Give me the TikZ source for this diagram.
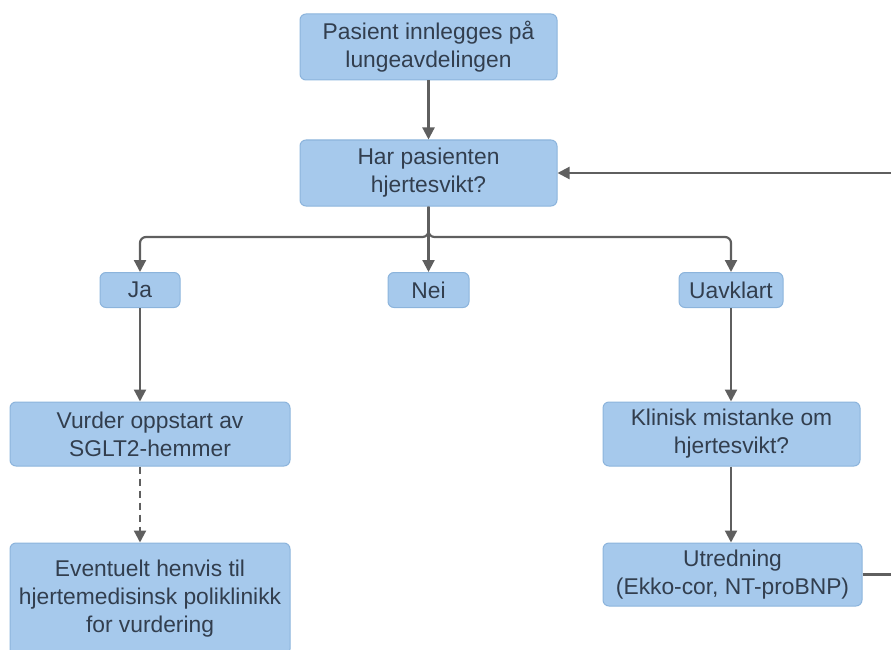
\documentclass[tikz,border=0pt]{standalone}
\usepackage{fontspec}
\setmainfont{Liberation Sans}
\usetikzlibrary{arrows.meta}
\definecolor{boxfill}{RGB}{166,201,236}
\definecolor{boxline}{RGB}{140,180,220}
\definecolor{txt}{RGB}{50,62,78}
\definecolor{arr}{RGB}{95,95,95}
\begin{document}
\begin{tikzpicture}[x=1pt,y=-1pt,
  box/.style={draw=boxline, line width=1pt, fill=boxfill, rounded corners=6pt,
    text=txt, align=center, inner sep=0pt,
    font=\fontsize{22.8}{28}\selectfont},
  conn/.style={draw=arr, line width=2.2pt, -{Triangle[length=12pt,width=12pt]}},
  plainline/.style={draw=arr, line width=2pt}]
\useasboundingbox (0,0) rectangle (891,650);
\clip (0,0) rectangle (891,650);
\node[box, minimum width=257pt, minimum height=66pt] (b1) at (428.5,47) {Pasient innlegges på\\lungeavdelingen};
\node[box, minimum width=257pt, minimum height=66pt] (b2) at (428.5,173) {Har pasienten\\hjertesvikt?};
\node[box, minimum width=80pt, minimum height=35pt] (ja) at (140,290) {Ja};
\node[box, minimum width=81pt, minimum height=35pt] (nei) at (428.5,290) {Nei};
\node[box, minimum width=104pt, minimum height=35pt] (uav) at (731,290) {Uavklart};
\node[box, minimum width=280pt, minimum height=64pt] (vur) at (150,434) {Vurder oppstart av\\SGLT2-hemmer};
\node[box, minimum width=280pt, minimum height=112pt] (eve) at (150,599) {Eventuelt henvis til\\hjertemedisinsk poliklinikk\\for vurdering};
\node[box, minimum width=257pt, minimum height=64pt] (kli) at (731.5,434) {Klinisk mistanke om\\hjertesvikt?};
\node[box, minimum width=259pt, minimum height=63pt] (utr) at (732.5,574.5) {Utredning\\(Ekko-cor, NT-proBNP)};
\coordinate (split) at (428.5,237);
\coordinate (fbx) at (905,0);
\draw[conn] (b1) -- (b2);
\draw[conn] (b2.south) -- (nei.north);
\draw[conn, rounded corners=6pt] (b2.south) -- (split) -| (ja.north);
\draw[conn, rounded corners=6pt] (b2.south) -- (split) -| (uav.north);
\draw[conn] (ja.south) -- (ja.south |- vur.north);
\draw[conn, dash pattern=on 7pt off 5pt] (ja.south |- vur.south) -- (ja.south |- eve.north);
\draw[conn] (uav.south) -- (uav.south |- kli.north);
\draw[conn] (uav.south |- kli.south) -- (uav.south |- utr.north);
\draw[conn] (utr.east) -- (utr.east -| fbx) |- (b2.east);
\end{tikzpicture}
\end{document}
